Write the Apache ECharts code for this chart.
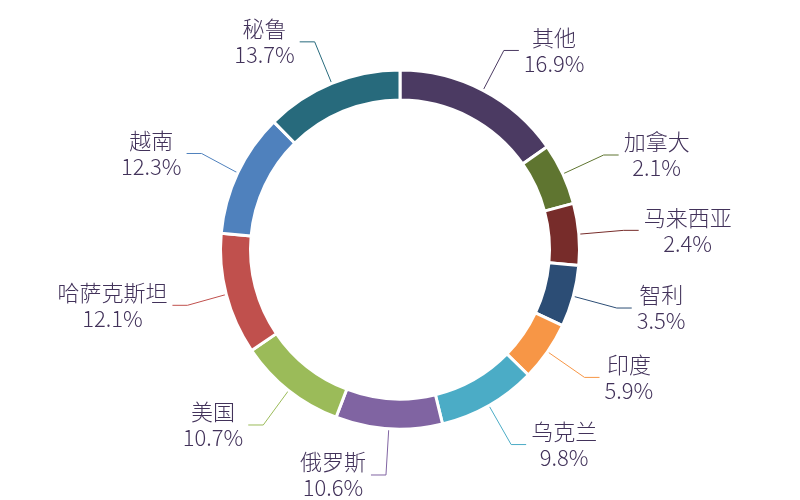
<!DOCTYPE html>
<html>
<head>
<meta charset="utf-8">
<script src="https://cdn.jsdelivr.net/npm/echarts@6/dist/echarts.min.js"></script>
<style>html,body{margin:0;padding:0;background:#fff;}#c{width:800px;height:500px;}</style>
</head>
<body>
<div id="c"></div>
<script>
const categories = ['其他','加拿大','马来西亚','智利','印度','乌克兰','俄罗斯','美国','哈萨克斯坦','越南','秘鲁'];
const values = [16.9, 2.1, 2.4, 3.5, 5.9, 9.8, 10.6, 10.7, 12.1, 12.3, 13.7];
const colors = ['#4b3a62','#5f7530','#772c2a','#2c4d75','#f79646','#4bacc6','#8064a2','#9bbb59','#c0504d','#4f81bd','#276a7c'];

const chart = echarts.init(document.getElementById('c'));
chart.setOption({
  animation: false,
  series: [{
    type: 'pie',
    center: ['50%', 249.5],
    radius: [149.5, 179.5],
    startAngle: 90,
    clockwise: true,
    minAngle: 20,
    avoidLabelOverlap: true,
    itemStyle: { borderColor: '#ffffff', borderWidth: 3 },
    label: {
      show: true,
      position: 'outside',
      distanceToLabelLine: 5,
      formatter: function (p) { return '{t|' + p.name + '}\n{t|' + p.value.toFixed(1) + '%}'; },
      rich: {
        t: { align: 'center', fontSize: 22, fontWeight: 300, lineHeight: 26, color: '#42325a', fontFamily: 'Noto Sans CJK SC' }
      }
    },
    labelLine: { show: true, length: 45, length2: 15, lineStyle: { width: 1 } },
    data: categories.map((n, i) => ({ name: n, value: values[i], itemStyle: { color: colors[i] } }))
  }]
});
</script>
</body>
</html>
